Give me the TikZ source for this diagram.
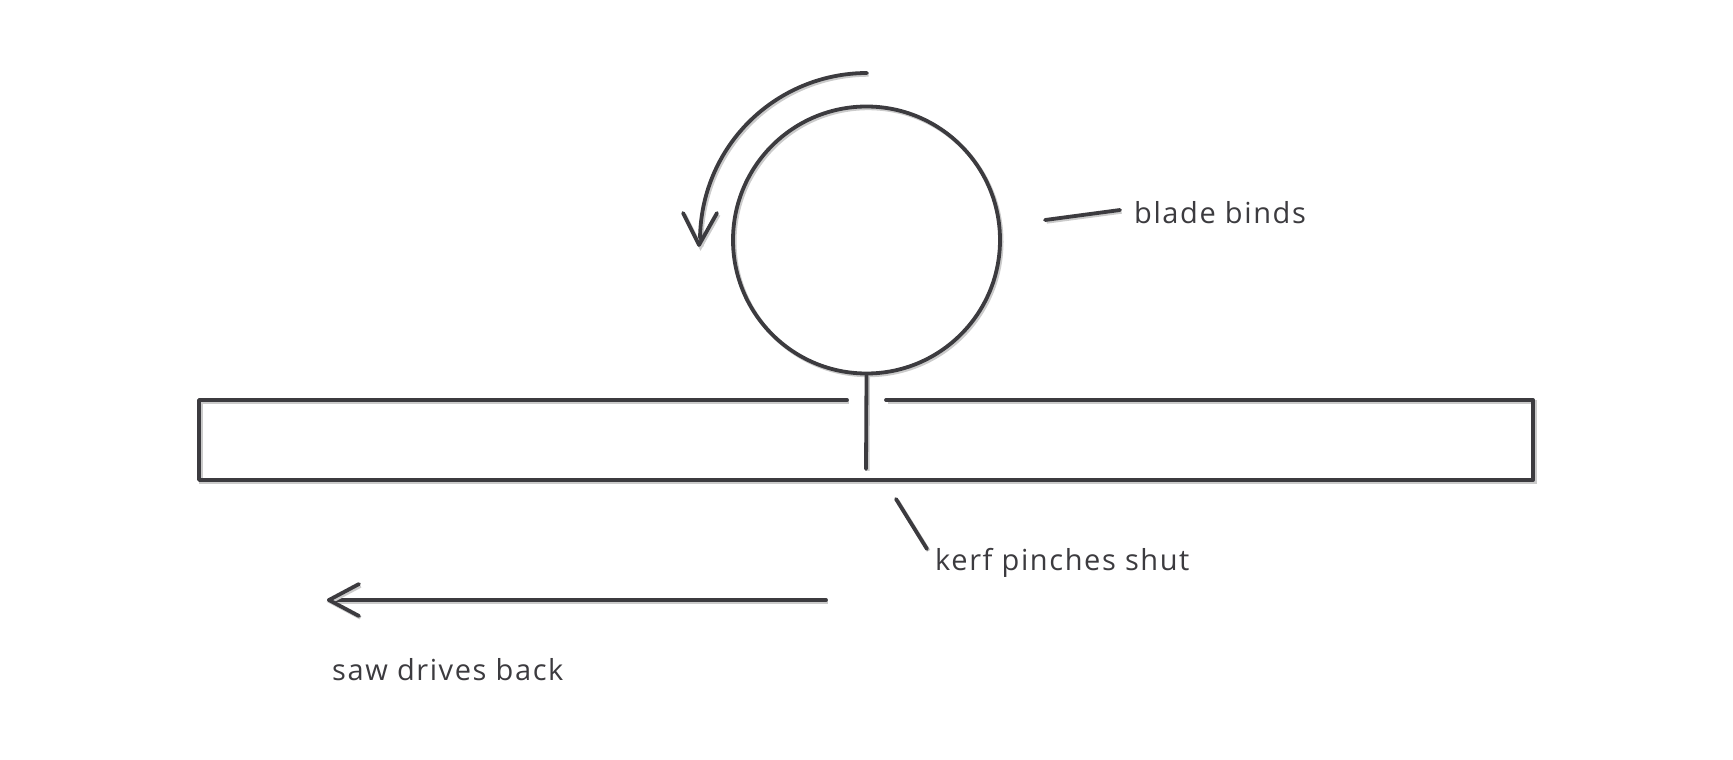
\documentclass[tikz,border=0pt]{standalone}
\usepackage{fontspec}
\setmainfont[LetterSpace=5.5]{Open Sans}
\usetikzlibrary{arrows.meta}
\definecolor{ink}{HTML}{3C3B3F}
\definecolor{shade}{HTML}{CBCBCB}
\begin{document}
\begin{tikzpicture}[x=1pt,y=-1pt,
  sketch/.style={draw=ink,line width=3.8pt,line cap=round,line join=round,
    preaction={draw=shade,line width=3.8pt,transform canvas={shift={(1.6pt,-1.8pt)}}}},
  lbl/.style={anchor=base west,text=ink,font=\fontsize{29}{31}\selectfont,inner sep=0pt}]
\useasboundingbox (0,0) rectangle (1733,760);
% blade
\node[sketch,circle,minimum size=267pt,inner sep=0pt] (blade) at (866.5,240) {};
% board
\coordinate (tl) at (199,400);
\coordinate (tr) at (1533,400);
\coordinate (br) at (1533,480);
\coordinate (bl) at (199,480);
\coordinate (gapL) at (847,400);
\coordinate (gapR) at (886,400);
\draw[sketch] (gapL) -- (tl) -- (bl) -- (br) -- (tr) -- (gapR);
% kerf
\coordinate (kerfend) at (866,469);
\draw[sketch] (blade.south) -- (kerfend);
% rotation arrow
\coordinate (rotstart) at (867,73);
\coordinate (rottip) at (699,245);
\draw[sketch] (rotstart) arc[start angle=-90,end angle=-181.7,radius=167];
\draw[sketch] (683,213) -- (rottip) -- (717,213);
% labels
\node[lbl] (binds) at (1134,223) {blade binds};
\coordinate (bindsA) at (1045,220);
\coordinate (bindsB) at (1120,210);
\draw[sketch] (bindsA) -- (bindsB);
\node[lbl] (kerf) at (935,570) {kerf pinches shut};
\coordinate (kerfA) at (896,499);
\coordinate (kerfB) at (927,549);
\draw[sketch] (kerfA) -- (kerfB);
% saw drives back
\coordinate (sawstart) at (826,600);
\coordinate (sawtip) at (329,600);
\draw[sketch] (sawstart) -- (sawtip);
\draw[sketch] (359,584) -- (sawtip) -- (359,616);
\node[lbl] (saw) at (332,680) {saw drives back};
\end{tikzpicture}
\end{document}
